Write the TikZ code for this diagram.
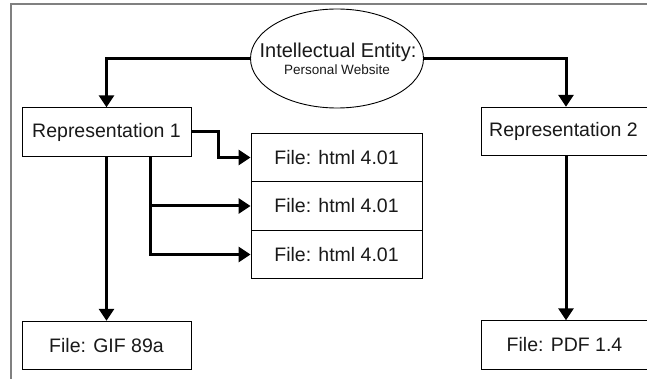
\documentclass[tikz,border=0pt]{standalone}
\usepackage{fontspec}
\setmainfont{Liberation Sans}
\usetikzlibrary{arrows.meta,shapes.geometric}
\begin{document}
\begin{tikzpicture}[x=1pt,y=-1pt,
  box/.style={draw=black, line width=0.9pt, minimum width=169pt, minimum height=48.5pt,
    inner sep=0pt, font=\fontsize{19.5}{22}\selectfont, text=black!90},
  entity/.style={ellipse, draw=black, line width=0.9pt, minimum width=173pt,
    minimum height=99pt, inner sep=0pt},
  caption/.style={anchor=base, inner sep=0pt, text=black!90},
  flow/.style={line width=3pt, -{Triangle[length=12pt,width=15pt]}},
  frame/.style={draw=black!50, line width=1.5pt}]

\useasboundingbox (0,0) rectangle (647,379);
\clip (0,0) rectangle (647,379);

% outer frame (top and left edges only)
\draw[frame] (647,4) -- (11,4) -- (11,379);

% the intellectual entity
\node[entity] (ent) at (337,58.5) {};
\node[caption, font=\fontsize{20}{22}\selectfont] (enttitle) at (338,58) {Intellectual Entity:};
\node[caption, font=\fontsize{13.5}{15}\selectfont] (entsub) at (337,75) {Personal Website};

% representations
\node[box] (r1) at (106.5,132) {Representation 1};
\node[box, minimum width=170pt] (r2) at (566,131.5) {Representation 2\hspace*{5pt}};

% files of representation 1
\node[box, minimum width=171pt] (h1) at (336.5,157.5) {File: html 4.01};
\node[box, minimum width=171pt] (h2) at (336.5,206)   {File: html 4.01};
\node[box, minimum width=171pt] (h3) at (336.5,254.5) {File: html 4.01};
\node[box] (gif) at (106.5,345.5) {File: GIF 89a};

% file of representation 2
\node[box, minimum width=170pt] (pdf) at (566,345) {File: PDF 1.4\hspace*{3pt}};

% connectors
\draw[flow] (ent.west) -| (r1.north);
\draw[flow] (ent.east) -| (r2.north);
\draw[flow] (r1.east) -- ++(27,0) |- (h1.west);
\draw[flow] (r1.south) -- (gif.north);
\coordinate (split) at ([xshift=43.5pt]r1.south);
\draw[flow] (split) |- (h3.west);
\draw[flow] (split |- h2.west) -- (h2.west);
\draw[flow] (r2.south) -- (pdf.north);
\end{tikzpicture}
\end{document}
